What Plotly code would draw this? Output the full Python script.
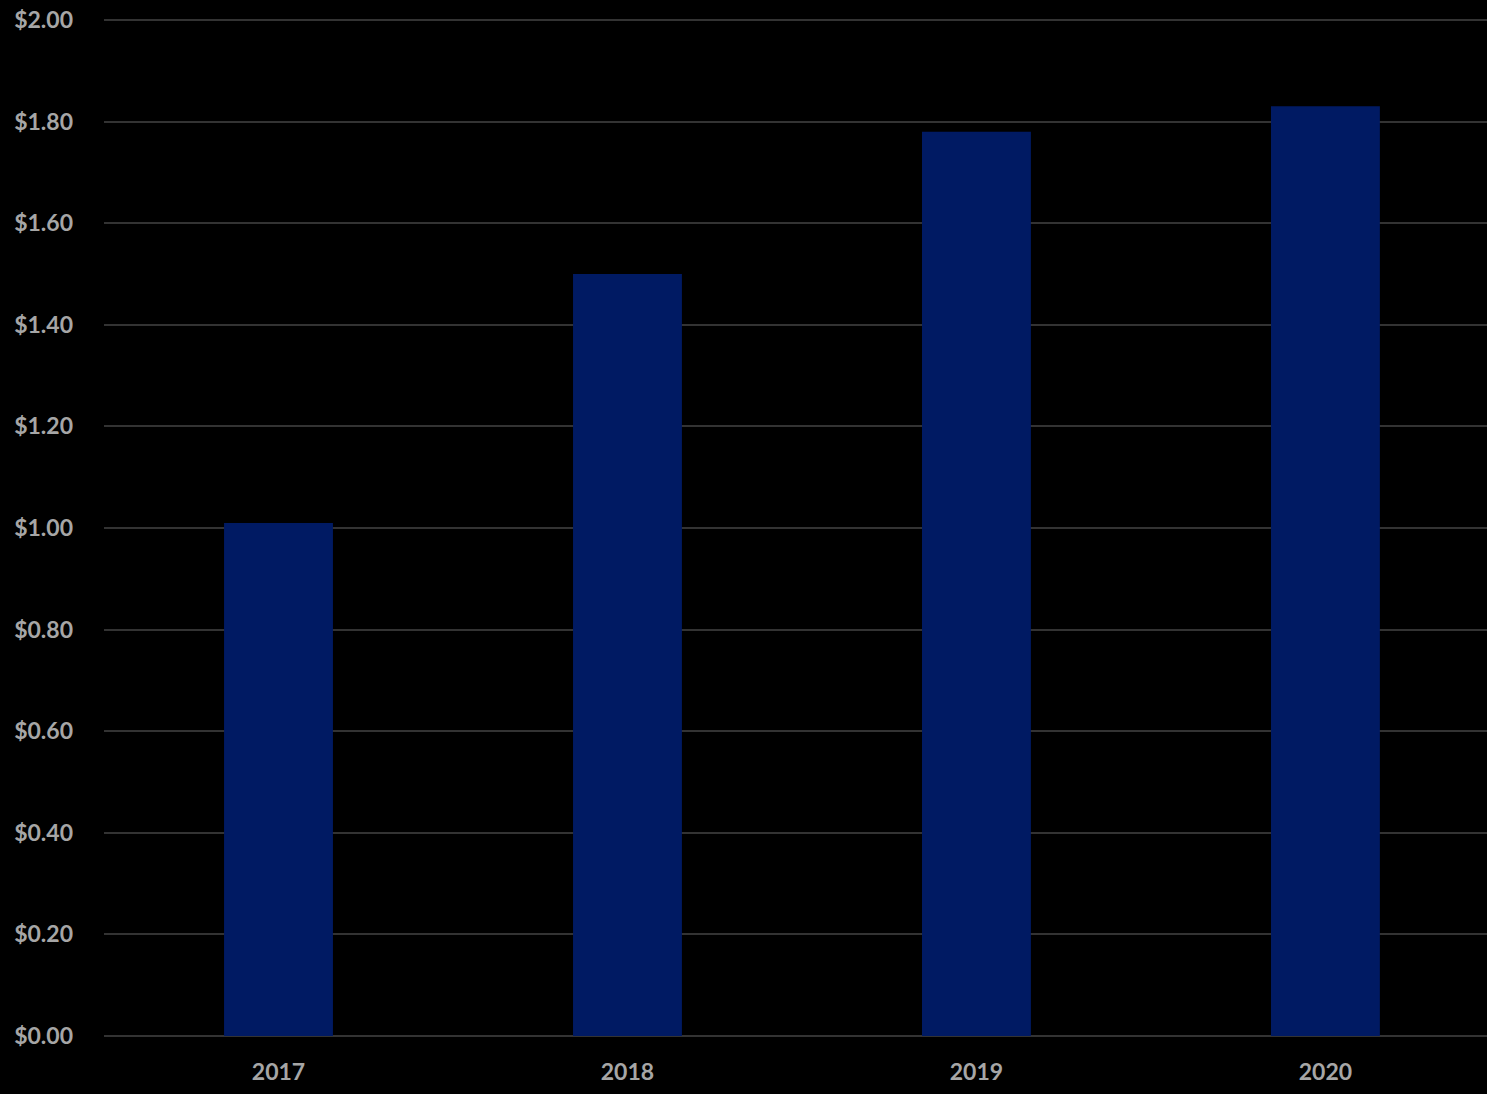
import plotly.graph_objects as go

years = ["2017", "2018", "2019", "2020"]
values = [1.01, 1.50, 1.78, 1.83]
tick_vals = [0, 0.2, 0.4, 0.6, 0.8, 1.0, 1.2, 1.4, 1.6, 1.8, 2.0]
tick_text = ["$0.00", "$0.20", "$0.40", "$0.60", "$0.80", "$1.00", "$1.20", "$1.40", "$1.60", "$1.80", "$2.00"]

fig = go.Figure(go.Bar(x=years, y=values, marker=dict(color="#001A63", line=dict(width=0)), width=0.312))

tf = dict(family="Lato, sans-serif", size=23, color="#A6A6A6", weight="bold")
fig.update_layout(
    width=1487, height=1094,
    paper_bgcolor="#000000", plot_bgcolor="#000000",
    margin=dict(l=104, r=0, t=19, b=58),
    showlegend=False,
)
fig.update_xaxes(range=[-0.5, 3.463], showgrid=False, showline=False, ticks="", tickfont=tf, ticklabelstandoff=20)
fig.update_yaxes(range=[0, 2.002], tickvals=tick_vals, ticktext=tick_text, showgrid=True, gridcolor="#333333", gridwidth=1.5,
                 zeroline=True, zerolinecolor="#333333", zerolinewidth=1.5, showline=False, ticks="",
                 tickfont=tf, ticklabelstandoff=30)
fig.write_html("out.html", config={"displayModeBar": False})

with open("out.html", "r", encoding="utf-8") as f:
    html = f.read()
html = html.replace("<head>", "<head><style>html,body{margin:0;padding:0;background:#000;}</style>", 1)
with open("out.html", "w", encoding="utf-8") as f:
    f.write(html)
